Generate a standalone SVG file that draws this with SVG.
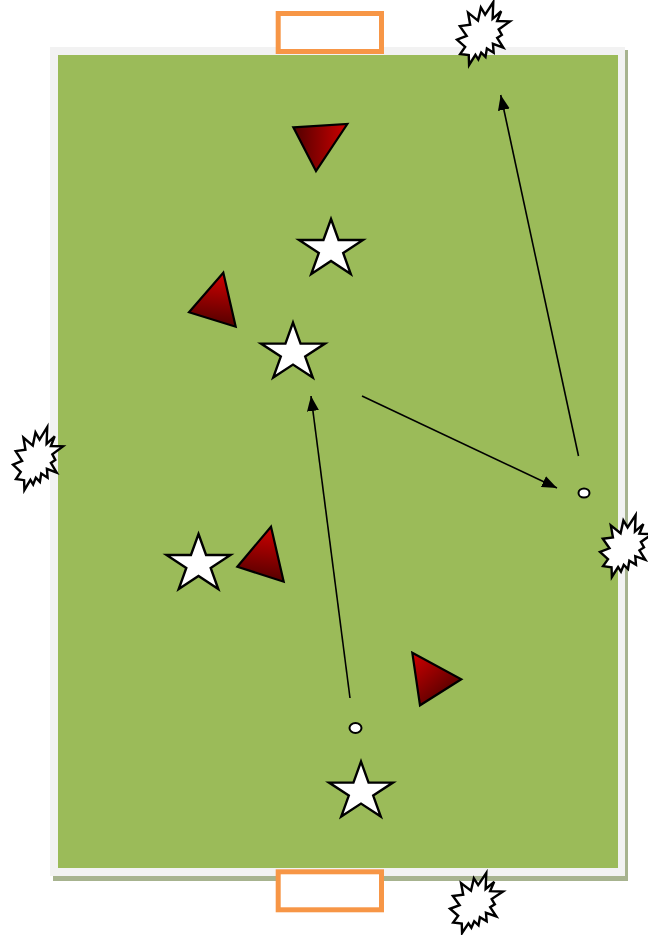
<svg xmlns="http://www.w3.org/2000/svg" width="648" height="935" viewBox="0 0 648 935">
<style>
.star{fill:#ffffff;stroke:#000000;stroke-width:2.4;stroke-linejoin:miter}
.tri{stroke:#000000;stroke-width:2.2;stroke-linejoin:miter}
.burst{fill:#ffffff;stroke:#000000;stroke-width:2.4}
.goal{fill:#ffffff;stroke:#f79646;stroke-width:5}
.ball{fill:#ffffff;stroke:#000000;stroke-width:2}
.arrow{stroke:#000000;stroke-width:1.6;fill:none}
</style>
<defs>
<marker id="ah" markerUnits="userSpaceOnUse" markerWidth="15" markerHeight="12" refX="15" refY="6" orient="auto">
<path d="M0,0 L15,6 L0,12 z" fill="#000000"/>
</marker>
<path id="starShape" d="M0,-30.4 L7.56,-9.39 L31.95,-9.39 L12.2,3.59 L19.76,24.59 L0,11.61 L-19.76,24.59 L-12.2,3.59 L-31.95,-9.39 L-7.56,-9.39 Z"/>
<path id="burstShape" vector-effect="non-scaling-stroke" d="M53.1,20.1 L68.5,0 L67.2,26.7 L83.4,14.7 L75.8,30.2 L100,30.8 L78.6,43.5 L84.6,52.3 L75.8,57 L87.4,72.4 L67.8,66.4 L69.2,80.4 L56.4,73.8 L53.8,87.2 L45.7,80.4 L40.3,91.3 L34.8,83.9 L22.8,100 L22.2,84.4 L5.9,82.5 L15.4,71.2 L0,59.6 L18.2,53.7 L5.4,38.3 L24.9,36.2 L20.8,16.8 L39.6,29.5 L45,8.7 Z"/>
<linearGradient id="g1" gradientUnits="userSpaceOnUse" x1="295" y1="140" x2="347" y2="140">
<stop offset="0" stop-color="#550000"/><stop offset="1" stop-color="#cc0000"/>
</linearGradient>
<linearGradient id="g2" gradientUnits="userSpaceOnUse" x1="220" y1="275" x2="215" y2="325">
<stop offset="0" stop-color="#cc0000"/><stop offset="1" stop-color="#550000"/>
</linearGradient>
<linearGradient id="g3" gradientUnits="userSpaceOnUse" x1="268" y1="528" x2="262" y2="580">
<stop offset="0" stop-color="#cc0000"/><stop offset="1" stop-color="#550000"/>
</linearGradient>
<linearGradient id="g4" gradientUnits="userSpaceOnUse" x1="413" y1="655" x2="448" y2="697">
<stop offset="0" stop-color="#cc0000"/><stop offset="1" stop-color="#550000"/>
</linearGradient>
</defs>

<g id="field">
<rect x="53" y="50" width="575" height="831" fill="#a7b38f"/>
<rect x="50" y="47" width="575" height="829" fill="#f2f2f2"/>
<rect x="58" y="55" width="560" height="813" fill="#9bbb59"/>
</g>

<g id="goal-top"><rect class="goal" x="278.2" y="13.5" width="103.3" height="38"/></g>
<g id="goal-bottom"><rect class="goal" x="278.2" y="871.8" width="103.3" height="38"/></g>

<g id="burst-top"><use href="#burstShape" class="burst" transform="translate(457,2) scale(0.53,0.63)"/></g>
<g id="burst-left"><use href="#burstShape" class="burst" transform="translate(13,427) scale(0.5,0.63)"/></g>
<g id="burst-right"><use href="#burstShape" class="burst" transform="translate(600,515) scale(0.52,0.62)"/></g>
<g id="burst-bottom"><use href="#burstShape" class="burst" transform="translate(450,873) scale(0.53,0.6)"/></g>

<g id="tri-1"><polygon class="tri" fill="url(#g1)" points="293.3,127.3 347.3,124 316,171"/></g>
<g id="tri-2"><polygon class="tri" fill="url(#g2)" points="223.3,272.7 189,312.3 235.7,326.7"/></g>
<g id="tri-3"><polygon class="tri" fill="url(#g3)" points="271,526.7 237.3,566.7 283.7,581.7"/></g>
<g id="tri-4"><polygon class="tri" fill="url(#g4)" points="412.3,652.7 461.3,679.3 420,705.3"/></g>

<g id="star-1"><use href="#starShape" class="star" transform="translate(331,249.4)"/></g>
<g id="star-2"><use href="#starShape" class="star" transform="translate(293,353)"/></g>
<g id="star-3"><use href="#starShape" class="star" transform="translate(198.5,564.4)"/></g>
<g id="star-4"><use href="#starShape" class="star" transform="translate(361,792)"/></g>

<g id="ball-1"><ellipse class="ball" cx="584" cy="493" rx="5.5" ry="4.5"/></g>
<g id="ball-2"><ellipse class="ball" cx="355.5" cy="728" rx="6" ry="5"/></g>

<g id="connectors">
<line class="arrow" x1="578.5" y1="456" x2="500.7" y2="95" marker-end="url(#ah)"/>
<line class="arrow" x1="362" y1="396" x2="557" y2="488" marker-end="url(#ah)"/>
<line class="arrow" x1="350" y1="698" x2="311" y2="396" marker-end="url(#ah)"/>
</g>
</svg>
